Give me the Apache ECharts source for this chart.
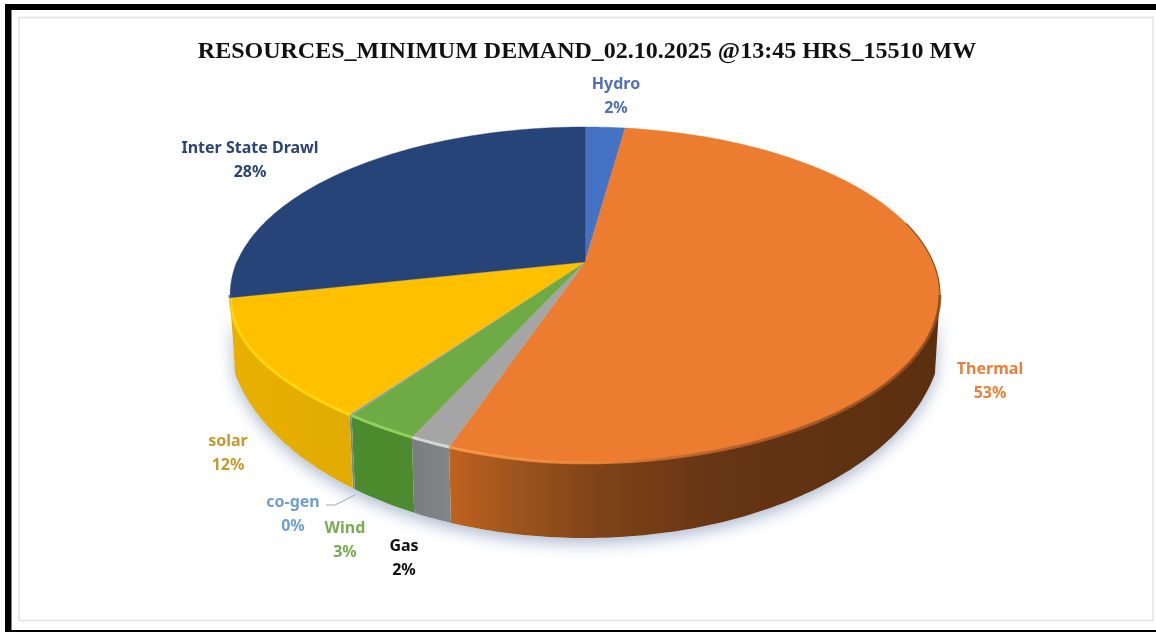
<!DOCTYPE html>
<html>
<head>
<meta charset="utf-8">
<style>html,body{margin:0;padding:0;background:#fff}#c{width:1156px;height:632px;filter:blur(0.45px)}</style>
<script src="https://cdn.jsdelivr.net/npm/echarts@6/dist/echarts.min.js"></script>
</head>
<body>
<div id="c"></div>
<script>
var titleText = 'RESOURCES_MINIMUM DEMAND_02.10.2025 @13:45 HRS_15510 MW';
var categories = ['Hydro', 'Thermal', 'Gas', 'Wind', 'co-gen', 'solar', 'Inter State Drawl'];
var values = [2.2, 52.95, 1.55, 2.8, 0.1, 12.0, 28.4];

/* styling tables, by category */
var topColors = ['#4472C4', '#EB7C30', '#A5A5A5', '#6EAB45', '#7F9FC0', '#FFC000', '#264478'];
var textColors = ['#4F6FB8', '#E8803A', '#111111', '#76AD50', '#6F9FD0', '#C49A2E', '#2A4474'];
var wallStops = [
  ['#2F528F', '#2F528F'], [], ['#828587', '#7A7C7E'], ['#4E8A2F', '#4C8A2E'],
  ['#6F8A90', '#6F8A90'], ['#E2AB02', '#E8B000'], ['#1B3058', '#1B3058']
];
var thermalWall = [[0, '#C0621E'], [0.12, '#A0561D'], [0.3, '#7F4318'], [0.55, '#663513'], [1, '#5A2F10']];
var bevelColors = ['#6A8FD8', null, '#DDDDDD', '#93D45E', '#93D45E', '#FFD810', '#3A5C9A'];
var labelAnchors = [[616, 96], [990, 381], [404, 558], [345, 540], [293, 514], [228, 453], [250, 160]];

/* 3D look of the pie */
var geo = {cx: 585, apexY: 262, a: 348, b: 161.5, k: 0.196, botCy: 330, botRx: 358, botRy: 208, xRatio: 0.986, skew: 24, halfW: 355};

function rim(theta) {
  var u = Math.sin(theta), v = Math.cos(theta), d = 1 + geo.k * v;
  var x = geo.cx + geo.a * u / d, y = geo.apexY - geo.b * v / d;
  var t = (x - geo.cx) / geo.halfW;
  if (t < 0 && v < 0) y -= geo.skew * t * t * (1 - t * t);
  return [x, y];
}
function rimBottom(theta) {
  var p = rim(theta);
  var x = geo.cx + (p[0] - geo.cx) * geo.xRatio;
  var t = (x - geo.cx) / geo.botRx;
  return [x, geo.botCy + geo.botRy * Math.sqrt(Math.max(0, 1 - t * t))];
}
var total = values.reduce(function (s, v) { return s + v; }, 0);
function startAngle(i) {
  var s = 0;
  for (var j = 0; j < i; j++) s += values[j];
  return s / total * Math.PI * 2;
}
var wallFrom = Math.acos(-geo.k), wallTo = Math.PI * 2 - wallFrom;

function sample(fn, t0, t1) {
  var n = Math.max(2, Math.ceil(Math.abs(t1 - t0) / 0.015)), pts = [];
  for (var i = 0; i <= n; i++) pts.push(fn(t0 + (t1 - t0) * i / n));
  return pts;
}

function renderBase() {
  var top = sample(rim, wallFrom, wallTo);
  var bot = sample(rimBottom, wallTo, wallFrom);
  return {
    type: 'polygon', shape: {points: top.concat(bot)},
    style: {fill: '#ffffff', shadowBlur: 16, shadowOffsetY: 5, shadowColor: 'rgba(70,100,150,0.45)'}
  };
}

function renderSlice(params, api) {
  var i = params.dataIndex;
  var t0 = startAngle(i), t1 = t0 + api.value(1) / total * Math.PI * 2;
  var kids = [];
  var w0 = Math.max(t0, wallFrom), w1 = Math.min(t1, wallTo);
  if (w1 > w0) {
    var top = sample(rim, w0, w1), bot = sample(rimBottom, w1, w0);
    var fill;
    if (categories[i] === 'Thermal') {
      fill = {type: 'linear', x: 450, y: 0, x2: 940, y2: 0, global: true,
        colorStops: thermalWall.map(function (s) { return {offset: s[0], color: s[1]}; })};
    } else {
      fill = {type: 'linear', x: top[0][0], y: 0, x2: top[top.length - 1][0], y2: 0, global: true,
        colorStops: [{offset: 0, color: wallStops[i][0]}, {offset: 1, color: wallStops[i][1]}]};
    }
    kids.push({type: 'polygon', shape: {points: top.concat(bot)}, style: {fill: fill}});
  }
  var face = sample(rim, t0, t1);
  face.unshift([geo.cx, geo.apexY]);
  kids.push({type: 'polygon', shape: {points: face},
    style: {fill: topColors[i], stroke: topColors[i], lineWidth: 0.4}});
  if (w1 > w0) {
    var line = sample(rim, w0, w1);
    var bevel = bevelColors[i];
    if (categories[i] === 'Thermal') {
      bevel = {type: 'linear', x: 450, y: 0, x2: 940, y2: 0, global: true, colorStops: [
        {offset: 0, color: '#FA9A50'}, {offset: 0.3, color: '#F08436'},
        {offset: 0.5, color: '#B8652A'}, {offset: 1, color: '#8A4A1E'}]};
    }
    kids.push({type: 'polyline', shape: {points: line},
      style: {fill: null, stroke: bevel, lineWidth: 3, opacity: 0.9}});
  }
  if (categories[i] === 'Thermal') {
    kids.push({type: 'polyline', shape: {points: sample(rim, wallFrom - 0.45, wallFrom)},
      style: {fill: null, stroke: '#8A4E24', lineWidth: 1.2}});
  }
  kids.push({
    type: 'text', x: labelAnchors[i][0], y: labelAnchors[i][1],
    style: {
      text: categories[i] + '\n' + Math.round(api.value(1)) + '%',
      fill: textColors[i], align: 'center', verticalAlign: 'middle',
      font: 'bold 16px "Noto Sans"', lineHeight: 24
    }
  });
  return {type: 'group', children: kids};
}

var chart = echarts.init(document.getElementById('c'), null, {renderer: 'canvas', width: 1156, height: 632});
chart.setOption({
  animation: false,
  backgroundColor: '#ffffff',
  title: {
    text: titleText, left: 582, top: 35, textAlign: 'center',
    textStyle: {fontFamily: '"Liberation Serif"', fontWeight: 'bold', fontSize: 24, color: '#111111'}
  },
  graphic: [
    {type: 'rect', shape: {x: 19, y: 17.5, width: 1134, height: 603}, style: {fill: '#fff', stroke: '#E2E2E2', lineWidth: 1.5}, z: -2},
    {type: 'rect', shape: {x: 5, y: 4, width: 1151, height: 6}, style: {fill: '#000'}, z: -1},
    {type: 'rect', shape: {x: 5, y: 4, width: 6.5, height: 628}, style: {fill: '#000'}, z: -1},
    {type: 'rect', shape: {x: 5, y: 630, width: 1151, height: 2}, style: {fill: '#000'}, z: -1},
    {type: 'polyline', shape: {points: [[326, 505], [335, 505], [355, 495]]}, style: {fill: null, stroke: '#A6A6A6', lineWidth: 1}, z: 10}
  ],
  series: [
    {type: 'custom', coordinateSystem: 'none', silent: true, data: [[0]], renderItem: renderBase, z: 1},
    {type: 'custom', coordinateSystem: 'none', silent: true,
     data: categories.map(function (c, i) { return [i, values[i]]; }),
     encode: {value: 1}, renderItem: renderSlice, z: 2}
  ]
});
</script>
</body>
</html>
